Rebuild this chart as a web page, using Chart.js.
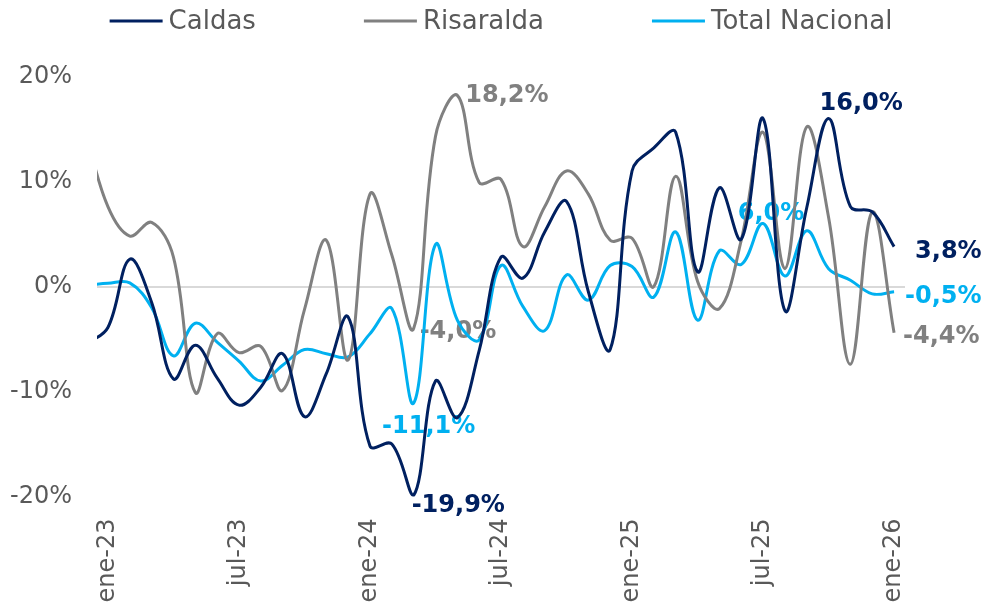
<!DOCTYPE html>
<html>
<head>
<meta charset="utf-8">
<script src="https://cdn.jsdelivr.net/npm/chart.js@4.4.1/dist/chart.umd.min.js"></script>
<style>
  html, body { margin: 0; padding: 0; background: #ffffff; }
</style>
</head>
<body>
<canvas id="variationChart" width="987" height="614"></canvas>
<script>
// monthly series, dic-22 .. ene-26 (dic-22 only feeds the clipped first segment)
const months = [
  "dic-22",
  "ene-23", "feb-23", "mar-23", "abr-23", "may-23", "jun-23",
  "jul-23", "ago-23", "sep-23", "oct-23", "nov-23", "dic-23",
  "ene-24", "feb-24", "mar-24", "abr-24", "may-24", "jun-24",
  "jul-24", "ago-24", "sep-24", "oct-24", "nov-24", "dic-24",
  "ene-25", "feb-25", "mar-25", "abr-25", "may-25", "jun-25",
  "jul-25", "ago-25", "sep-25", "oct-25", "nov-25", "dic-25",
  "ene-26"
];

const caldas = [
  -5.5,
  -3.9, 2.6, -1.5, -8.8, -5.6, -8.7,
  -11.3, -9.6, -6.4, -12.4, -8.3, -2.9,
  -15.2, -15.0, -19.9, -9.0, -12.5, -6.1,
  2.8, 0.8, 5.2, 8.1, -0.5, -6.0,
  11.0, 13.2, 14.7, 1.4, 9.4, 4.5,
  16.0, -2.3, 7.5, 16.0, 7.6, 7.1,
  3.8
];

const risaralda = [
  14.5,
  7.6, 4.8, 6.1, 2.8, -10.1, -4.5,
  -6.3, -5.7, -9.9, -2.2, 4.4, -7.0,
  8.8, 3.0, -4.0, 14.3, 18.2, 9.9,
  10.2, 3.8, 7.6, 11.0, 8.8, 4.4,
  4.6, 0.0, 10.5, 0.5, -2.1, 4.4,
  14.7, 1.7, 15.2, 6.6, -7.4, 7.1,
  -4.4
];

const totalNacional = [
  0.1,
  0.3, 0.35, -2.0, -6.6, -3.5, -5.3,
  -7.1, -9.0, -7.5, -6.0, -6.4, -6.7,
  -4.5, -2.1, -11.1, 4.0, -3.2, -5.1,
  2.0, -1.9, -4.2, 1.1, -1.3, 2.0,
  1.9, -1.0, 5.2, -3.2, 3.4, 2.1,
  6.0, 1.0, 5.3, 1.7, 0.6, -0.7,
  -0.5
];

const seriesNames = ["Caldas", "Risaralda", "Total Nacional"];
const seriesColors = ["#002060", "#808080", "#00B0F0"];

// which points get a value label
const labelledPoints = [
  { series: 1, index: 17, dx: 8, dy: 0, align: "left" },
  { series: 0, index: 34, dx: -9, dy: -15, align: "left" },
  { series: 0, index: 37, dx: 21, dy: 5, align: "left" },
  { series: 2, index: 37, dx: 11, dy: 5, align: "left" },
  { series: 1, index: 37, dx: 9, dy: 4, align: "left" },
  { series: 2, index: 31, dx: 8, dy: -10, align: "center" },
  { series: 1, index: 15, dx: 6, dy: 3, align: "left" },
  { series: 2, index: 15, dx: 15, dy: 24, align: "center" },
  { series: 0, index: 15, dx: -2, dy: 10, align: "left" },
];

const tickIndexes = months
  .map((m, i) => (m.startsWith("ene") || m.startsWith("jul") ? i : -1))
  .filter((i) => i >= 0);

const FONT = "'Century Gothic', 'DejaVu Sans', sans-serif";
const TEXT_GRAY = "#595959";

Chart.defaults.font.family = FONT;

function toPoints(values) {
  return values.map((v, i) => ({ x: i, y: v }));
}

function formatPct(v) {
  return v.toFixed(1).replace(".", ",") + "%";
}

const lineLegend = {
  id: "lineLegend",
  afterDraw(chart) {
    const ctx = chart.ctx;
    const lineLen = 53;
    const gap = 6;
    const spacing = 108;
    const y = 22;

    ctx.save();
    ctx.font = "26px " + FONT;
    ctx.textBaseline = "middle";
    ctx.textAlign = "left";

    const datasets = chart.data.datasets;
    const widths = datasets.map((ds) => lineLen + gap + ctx.measureText(ds.label).width);
    const total = widths.reduce((a, b) => a + b, 0) + spacing * (datasets.length - 1);
    let x = (chart.chartArea.left + chart.chartArea.right) / 2 - total / 2;

    datasets.forEach((ds, i) => {
      ctx.strokeStyle = ds.borderColor;
      ctx.lineWidth = 3;
      ctx.beginPath();
      ctx.moveTo(x, y - 1);
      ctx.lineTo(x + lineLen, y - 1);
      ctx.stroke();

      ctx.fillStyle = TEXT_GRAY;
      ctx.fillText(ds.label, x + lineLen + gap, y);
      x += widths[i] + spacing;
    });

    ctx.restore();
  },
};

const valueLabels = {
  id: "valueLabels",
  beforeDatasetsDraw(chart) {
    const ctx = chart.ctx;
    const xScale = chart.scales.x;
    const yScale = chart.scales.y;

    ctx.save();
    ctx.font = "bold 24px " + FONT;
    ctx.textBaseline = "middle";

    labelledPoints.forEach((p) => {
      const ds = chart.data.datasets[p.series];
      const point = ds.data[p.index];
      const px = xScale.getPixelForValue(point.x);
      const py = yScale.getPixelForValue(point.y);

      ctx.fillStyle = ds.borderColor;
      ctx.textAlign = p.align;
      ctx.fillText(formatPct(point.y), px + p.dx, py + p.dy);
    });

    ctx.restore();
  },
};

const chartCanvas = document.getElementById("variationChart");

new Chart(chartCanvas, {
  type: "line",
  data: {
    datasets: [caldas, risaralda, totalNacional].map((values, i) => ({
      label: seriesNames[i],
      data: toPoints(values),
      borderColor: seriesColors[i],
      backgroundColor: seriesColors[i],
      borderWidth: 3,
      pointRadius: 0,
      tension: 0.38,
      fill: false,
    })),
  },
  options: {
    responsive: false,
    animation: false,
    devicePixelRatio: 1,
    layout: {
      padding: { top: 76.5, right: 82, bottom: 0, left: 0 },
    },
    plugins: {
      legend: { display: false },
      tooltip: { enabled: false },
    },
    scales: {
      x: {
        type: "linear",
        min: 0.5,
        max: 37.5,
        afterBuildTicks: (scale) => {
          scale.ticks = tickIndexes.map((v) => ({ value: v }));
        },
        afterFit: (scale) => {
          scale.height = 117.5;
        },
        ticks: {
          autoSkip: false,
          minRotation: 90,
          maxRotation: 90,
          padding: 22,
          color: TEXT_GRAY,
          font: { size: 24 },
          callback: (value) => months[value],
        },
        grid: { display: false, drawTicks: false },
        border: { display: false },
      },
      y: {
        min: -20,
        max: 20,
        afterFit: (scale) => {
          scale.width = 97;
        },
        ticks: {
          stepSize: 10,
          padding: 25,
          color: TEXT_GRAY,
          font: { size: 24 },
          callback: (value) => value + "%",
        },
        grid: {
          drawTicks: false,
          lineWidth: 2,
          color: (c) => (c.tick && c.tick.value === 0 ? "#d9d9d9" : "rgba(0,0,0,0)"),
        },
        border: { display: false },
      },
    },
  },
  plugins: [valueLabels, lineLegend],
});
</script>
</body>
</html>
